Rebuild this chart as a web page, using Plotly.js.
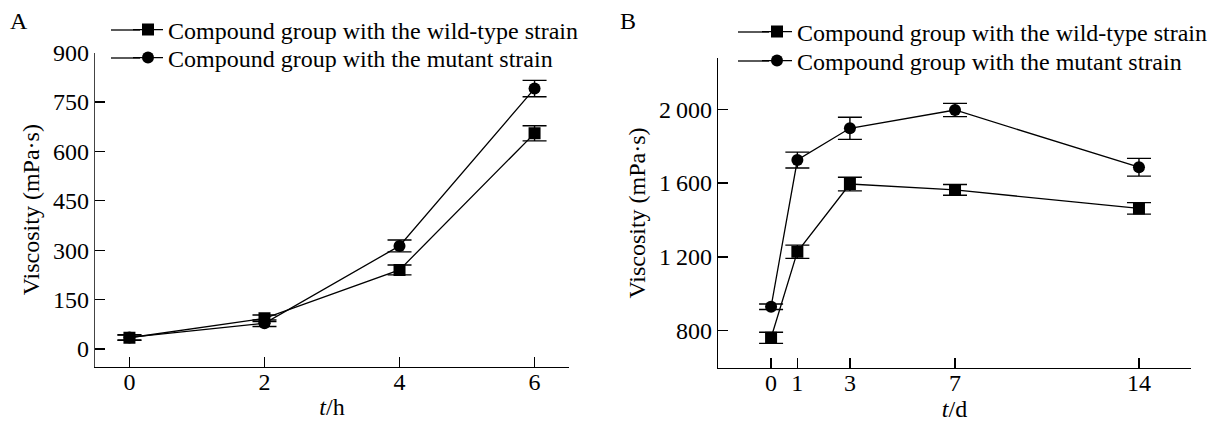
<!DOCTYPE html>
<html>
<head>
<meta charset="utf-8">
<script src="https://cdn.plot.ly/plotly-3.0.1.min.js"></script>
<style>html,body{margin:0;padding:0;background:#fff;}#chart{width:1213px;height:422px;}</style>
</head>
<body>
<div id="chart"></div>
<script>
// Panel A: viscosity over hours
const hoursA = [0, 2, 4, 6];
const wildA = [34, 93, 240, 655];
const wildAErr = [8, 10, 15, 23];
const mutantA = [35, 78, 313, 791];
const mutantAErr = [8, 10, 18, 25];

// Panel B: viscosity over days
const daysB = [0, 1, 3, 7, 14];
const wildB = [762, 1228, 1595, 1563, 1463];
const wildBErr = [30, 36, 37, 29, 31];
const mutantB = [930, 1725, 1897, 1996, 1686];
const mutantBErr = [15, 43, 60, 36, 48];

const tickValsA = [0, 150, 300, 450, 600, 750, 900];
const tickValsB = [800, 1200, 1600, 2000];
const tickTextB = ['800', '1\u2009200', '1\u2009600', '2\u2009000'];

const nameWild = 'Compound group with the wild-type strain';
const nameMut = 'Compound group with the mutant strain';

const FONT = 'Liberation Serif, Times New Roman, serif';
const FS = 24;
const lineStyle = {color: '#000', width: 1.3};

function errBar(arr) {
  return {type: 'data', array: arr, visible: true, color: '#000', thickness: 1.4, width: 12};
}

const traces = [
  {x: hoursA, y: wildA, error_y: errBar(wildAErr), name: nameWild, mode: 'lines+markers',
   line: lineStyle, marker: {symbol: 'square', size: 12, color: '#000'}, xaxis: 'x', yaxis: 'y', legend: 'legend'},
  {x: hoursA, y: mutantA, error_y: errBar(mutantAErr), name: nameMut, mode: 'lines+markers',
   line: lineStyle, marker: {symbol: 'circle', size: 12, color: '#000'}, xaxis: 'x', yaxis: 'y', legend: 'legend2'},
  {x: daysB, y: wildB, error_y: errBar(wildBErr), name: nameWild, mode: 'lines+markers',
   line: lineStyle, marker: {symbol: 'square', size: 12, color: '#000'}, xaxis: 'x2', yaxis: 'y2', legend: 'legend3'},
  {x: daysB, y: mutantB, error_y: errBar(mutantBErr), name: nameMut, mode: 'lines+markers',
   line: lineStyle, marker: {symbol: 'circle', size: 12, color: '#000'}, xaxis: 'x2', yaxis: 'y2', legend: 'legend4'}
];

const axisCommon = {
  showline: true, linecolor: '#000', linewidth: 1.3, showgrid: false, zeroline: false,
  ticks: 'inside', ticklen: 10, tickwidth: 1.3, tickcolor: '#000',
  tickfont: {family: FONT, size: FS, color: '#000'}
};

const legendCommon = {
  font: {family: FONT, size: FS, color: '#000'}, bgcolor: 'rgba(0,0,0,0)',
  xanchor: 'left', yanchor: 'middle', tracegroupgap: 0, itemwidth: 30
};

const titleFont = {family: FONT, size: FS, color: '#000'};

// legend row positions (pixels from top) used for legend boxes and their extension lines
const rowA = [30, 58];
const rowB = [32, 61];

function ext(x0, x1, yPx) {
  return {type: 'line', xref: 'paper', yref: 'paper', x0: x0/1213, x1: x1/1213,
          y0: 1 - yPx/422, y1: 1 - yPx/422, line: {color: '#000', width: 1.3}};
}

const layout = {
  width: 1213, height: 422,
  margin: {l: 0, r: 0, t: 0, b: 0},
  paper_bgcolor: '#fff', plot_bgcolor: '#fff',
  font: {family: FONT, color: '#000'},
  xaxis: Object.assign({}, axisCommon, {
    domain: [95/1213, 569/1213], range: [-0.51, 6.51], tickvals: hoursA, anchor: 'y',
    ticklabelstandoff: -7,
    title: {text: '<i>t</i>/h', font: titleFont, standoff: 4}
  }),
  yaxis: Object.assign({}, axisCommon, {
    domain: [1 - 366.7/422, 1 - 52.7/422], range: [-54, 900], tickvals: tickValsA, anchor: 'x',
    linecolor: '#444',
    title: {text: 'Viscosity (mPa·s)', font: titleFont, standoff: 6}
  }),
  xaxis2: Object.assign({}, axisCommon, {
    domain: [718/1213, 1191/1213], range: [-2.02, 15.98], tickvals: daysB, anchor: 'y2',
    ticklabelstandoff: -7,
    title: {text: '<i>t</i>/d', font: titleFont, standoff: 4}
  }),
  yaxis2: Object.assign({}, axisCommon, {
    domain: [1 - 367.7/422, 1 - 58.3/422], range: [600, 2276], tickvals: tickValsB, ticktext: tickTextB, anchor: 'x2',
    title: {text: 'Viscosity (mPa·s)', font: titleFont, standoff: 6}
  }),
  showlegend: true,
  legend: Object.assign({}, legendCommon, {x: 128/1213, y: 1 - rowA[0]/422}),
  legend2: Object.assign({}, legendCommon, {x: 128/1213, y: 1 - rowA[1]/422}),
  legend3: Object.assign({}, legendCommon, {x: 757/1213, y: 1 - rowB[0]/422}),
  legend4: Object.assign({}, legendCommon, {x: 757/1213, y: 1 - rowB[1]/422}),
  shapes: [
    ext(111, 140, rowA[0]), ext(111, 140, rowA[1]),
    ext(738, 769, rowB[0]), ext(738, 769, rowB[1])
  ],
  annotations: [
    {text: 'A', xref: 'paper', yref: 'paper', x: 8/1213, y: 1 - 6/422, xanchor: 'left', yanchor: 'top',
     showarrow: false, font: titleFont},
    {text: 'B', xref: 'paper', yref: 'paper', x: 618/1213, y: 1 - 6/422, xanchor: 'left', yanchor: 'top',
     showarrow: false, font: titleFont}
  ]
};

Plotly.newPlot('chart', traces, layout, {displayModeBar: false, staticPlot: true});
</script>
</body>
</html>
